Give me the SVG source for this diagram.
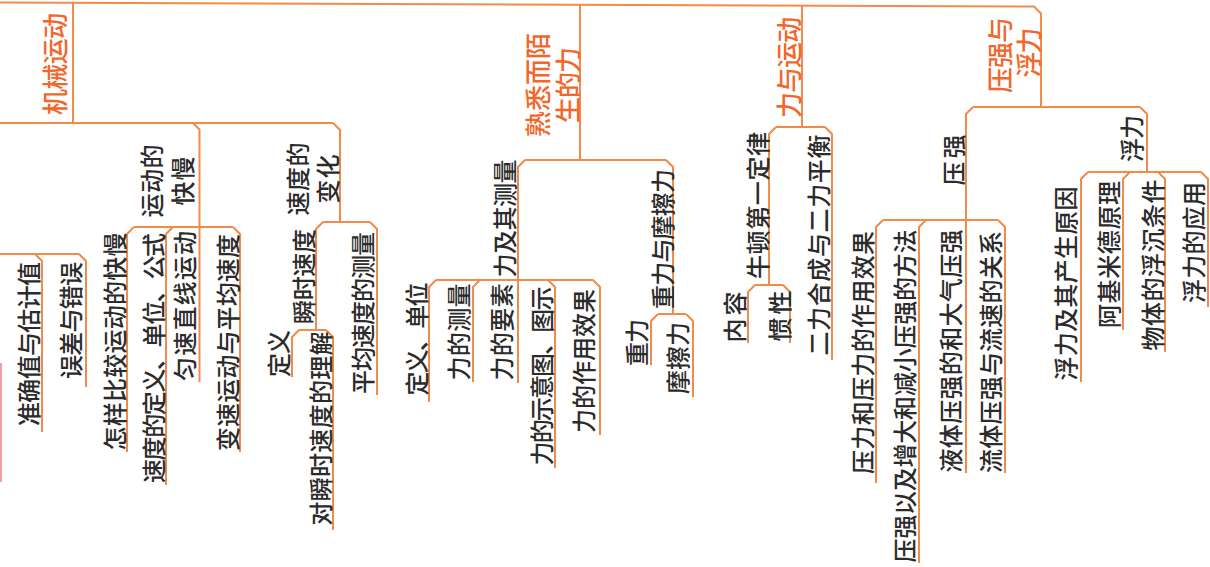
<svg xmlns="http://www.w3.org/2000/svg" width="1210" height="567" viewBox="0 0 1210 567">
<style>
.ln{fill:none;stroke:#f28a4a;stroke-width:2;stroke-linejoin:round;stroke-linecap:butt}
.t{font-family:"Noto Sans CJK SC","Noto Sans",sans-serif;font-size:24px;font-weight:500;fill:#2b2b2b;text-anchor:middle;dominant-baseline:central}
.o{font-size:26px;fill:#f2672b}
</style>
<rect width="1210" height="567" fill="#ffffff"/>
<g id="connectors">
<path class="ln" d="M0,2.5 L1034,6.5 L1041,13.5 V107"/>
<path class="ln" d="M0,123 H333"/>
<path class="ln" d="M0,254 H79"/>
<path class="ln" d="M134,227 H233"/>
<path class="ln" d="M323,222 H370"/>
<path class="ln" d="M299,330 H326"/>
<path class="ln" d="M525,160 H666"/>
<path class="ln" d="M436,280 H593"/>
<path class="ln" d="M658,314 H686"/>
<path class="ln" d="M776,127 H825"/>
<path class="ln" d="M755,285 H783"/>
<path class="ln" d="M973,107 H1140"/>
<path class="ln" d="M883,220 H998"/>
<path class="ln" d="M1088,172 H1201"/>
<path class="ln" d="M1,363 V482" style="stroke:#f4a0a0"/>
</g>
<g id="n-jixie">
<path class="ln" d="M73,3 V123"/>
<text class="t o" transform="translate(53,64) rotate(-90)" textLength="102" lengthAdjust="spacing">机械运动</text>
</g>
<g id="n-shuxi">
<path class="ln" d="M580,4.5 V160"/>
<text class="t o" transform="translate(536,85) rotate(-90)" textLength="104" lengthAdjust="spacing">熟悉而陌</text>
<text class="t o" transform="translate(566,85) rotate(-90)" textLength="76" lengthAdjust="spacing">生的力</text>
</g>
<g id="n-liyuyundong">
<path class="ln" d="M802,5.5 V127"/>
<text class="t o" transform="translate(787,67.5) rotate(-90)" textLength="101" lengthAdjust="spacing">力与运动</text>
</g>
<g id="n-yaqiang-fuli">
<text class="t o" transform="translate(998,55) rotate(-90)" textLength="76" lengthAdjust="spacing">压强与</text>
<text class="t o" transform="translate(1027,52.5) rotate(-90)" textLength="50" lengthAdjust="spacing">浮力</text>
</g>
<g id="n-yundongkuaiman">
<path class="ln" d="M193,123 L199.5,129.5 V227"/>
<text class="t" transform="translate(150,181) rotate(-90)" textLength="73" lengthAdjust="spacing">运动的</text>
<text class="t" transform="translate(181,181) rotate(-90)" textLength="49" lengthAdjust="spacing">快慢</text>
</g>
<g id="n-suduchange">
<path class="ln" d="M333,123 L340,130 V222"/>
<text class="t" transform="translate(296,179) rotate(-90)" textLength="73" lengthAdjust="spacing">速度的</text>
<text class="t" transform="translate(326,179) rotate(-90)" textLength="49" lengthAdjust="spacing">变化</text>
</g>
<g id="n-zhunque">
<path class="ln" d="M35,254 L42,261 V432"/>
<text class="t" transform="translate(27,344) rotate(-90)" textLength="164" lengthAdjust="spacing">准确值与估计值</text>
</g>
<g id="n-wucha">
<path class="ln" d="M79,254 L86,261 V387"/>
<text class="t" transform="translate(69,320.5) rotate(-90)" textLength="117" lengthAdjust="spacing">误差与错误</text>
</g>
<g id="n-zenyang">
<path class="ln" d="M134,227 L127,234 V452"/>
<text class="t" transform="translate(113,341.5) rotate(-90)" textLength="218" lengthAdjust="spacing">怎样比较运动的快慢</text>
</g>
<g id="n-sududing">
<path class="ln" d="M173,227 L166,234 V485"/>
<text class="t" transform="translate(152,358) rotate(-90)" textLength="250" lengthAdjust="spacing">速度的定义、单位、公式</text>
</g>
<g id="n-yunsu">
<path class="ln" d="M199.5,227 V382"/>
<text class="t" transform="translate(183,306) rotate(-90)" textLength="150" lengthAdjust="spacing">匀速直线运动</text>
</g>
<g id="n-biansu">
<path class="ln" d="M233,227 L240,234 V452"/>
<text class="t" transform="translate(226,342.5) rotate(-90)" textLength="217" lengthAdjust="spacing">变速运动与平均速度</text>
</g>
<g id="n-shunshi">
<path class="ln" d="M323,222 L316,229 V330"/>
<text class="t" transform="translate(302,276.5) rotate(-90)" textLength="95" lengthAdjust="spacing">瞬时速度</text>
</g>
<g id="n-pingjuncl">
<path class="ln" d="M370,222 L377,229 V395"/>
<text class="t" transform="translate(361,313) rotate(-90)" textLength="162" lengthAdjust="spacing">平均速度的测量</text>
</g>
<g id="n-dingyi1">
<path class="ln" d="M299,330 L292,337 V377"/>
<text class="t" transform="translate(277,353.5) rotate(-90)" textLength="47" lengthAdjust="spacing">定义</text>
</g>
<g id="n-lijie">
<path class="ln" d="M326,330 L333,337 V530"/>
<text class="t" transform="translate(319,428.5) rotate(-90)" textLength="194" lengthAdjust="spacing">对瞬时速度的理解</text>
</g>
<g id="n-lijiqicl">
<path class="ln" d="M525,160 L518,167 V383"/>
<text class="t" transform="translate(503,218.5) rotate(-90)" textLength="118" lengthAdjust="spacing">力及其测量</text>
</g>
<g id="n-zhongmoca">
<path class="ln" d="M666,160 L673,167 V314"/>
<text class="t" transform="translate(661,239) rotate(-90)" textLength="140" lengthAdjust="spacing">重力与摩擦力</text>
</g>
<g id="n-dingyidanwei">
<path class="ln" d="M436,280 L429,287 V402"/>
<text class="t" transform="translate(415,339) rotate(-90)" textLength="113" lengthAdjust="spacing">定义、单位</text>
</g>
<g id="n-lidecl">
<path class="ln" d="M480,280 L473,287 V382"/>
<text class="t" transform="translate(457,332) rotate(-90)" textLength="97" lengthAdjust="spacing">力的测量</text>
</g>
<g id="n-yaosu">
<text class="t" transform="translate(500,332) rotate(-90)" textLength="97" lengthAdjust="spacing">力的要素</text>
</g>
<g id="n-shiyitu">
<path class="ln" d="M548,280 L555,287 V468"/>
<text class="t" transform="translate(540,376) rotate(-90)" textLength="179" lengthAdjust="spacing">力的示意图、图示</text>
</g>
<g id="n-zuoyong">
<path class="ln" d="M593,280 L600,287 V435"/>
<text class="t" transform="translate(582,361) rotate(-90)" textLength="144" lengthAdjust="spacing">力的作用效果</text>
</g>
<g id="n-zhongli">
<path class="ln" d="M658,314 L651,321 V365"/>
<text class="t" transform="translate(635,342.5) rotate(-90)" textLength="47" lengthAdjust="spacing">重力</text>
</g>
<g id="n-mocali">
<path class="ln" d="M686,314 L693,321 V397"/>
<text class="t" transform="translate(676,358) rotate(-90)" textLength="72" lengthAdjust="spacing">摩擦力</text>
</g>
<g id="n-niudun">
<path class="ln" d="M776,127 L769,134 V285"/>
<text class="t" transform="translate(756,205.5) rotate(-90)" textLength="147" lengthAdjust="spacing">牛顿第一定律</text>
</g>
<g id="n-erli">
<path class="ln" d="M825,127 L832,134 V360"/>
<text class="t" transform="translate(817,245) rotate(-90)" textLength="221" lengthAdjust="spacing">二力合成与二力平衡</text>
</g>
<g id="n-neirong">
<path class="ln" d="M755,285 L748,292 V343"/>
<text class="t" transform="translate(733,317) rotate(-90)" textLength="51" lengthAdjust="spacing">内容</text>
</g>
<g id="n-guanxing">
<path class="ln" d="M783,285 L790,292 V343"/>
<text class="t" transform="translate(778,316) rotate(-90)" textLength="51" lengthAdjust="spacing">惯性</text>
</g>
<g id="n-yaqiang">
<path class="ln" d="M973,107 L966,114 V473"/>
<text class="t" transform="translate(952,160) rotate(-90)" textLength="51" lengthAdjust="spacing">压强</text>
</g>
<g id="n-fuli">
<path class="ln" d="M1140,107 L1147,114 V172"/>
<text class="t" transform="translate(1130,138.5) rotate(-90)" textLength="47" lengthAdjust="spacing">浮力</text>
</g>
<g id="n-yali">
<path class="ln" d="M883,220 L876,227 V483"/>
<text class="t" transform="translate(861,352.5) rotate(-90)" textLength="243" lengthAdjust="spacing">压力和压力的作用效果</text>
</g>
<g id="n-zengda">
<path class="ln" d="M926,220 L919,227 V563"/>
<text class="t" transform="translate(903,396) rotate(-90)" textLength="333" lengthAdjust="spacing">压强以及增大和减小压强的方法</text>
</g>
<g id="n-yeti">
<text class="t" transform="translate(949,351) rotate(-90)" textLength="243" lengthAdjust="spacing">液体压强的和大气压强</text>
</g>
<g id="n-liuti">
<path class="ln" d="M998,220 L1005,227 V473"/>
<text class="t" transform="translate(989,352) rotate(-90)" textLength="242" lengthAdjust="spacing">流体压强与流速的关系</text>
</g>
<g id="n-fulichansheng">
<path class="ln" d="M1088,172 L1081,179 V382"/>
<text class="t" transform="translate(1064,283.5) rotate(-90)" textLength="194" lengthAdjust="spacing">浮力及其产生原因</text>
</g>
<g id="n-ajimide">
<path class="ln" d="M1130,172 L1123,179 V330"/>
<text class="t" transform="translate(1107,254.5) rotate(-90)" textLength="147" lengthAdjust="spacing">阿基米德原理</text>
</g>
<g id="n-fuchen">
<path class="ln" d="M1158,172 L1165,179 V352"/>
<text class="t" transform="translate(1151,265) rotate(-90)" textLength="171" lengthAdjust="spacing">物体的浮沉条件</text>
</g>
<g id="n-yingyong">
<path class="ln" d="M1201,172 L1208,179 V307"/>
<text class="t" transform="translate(1192,242.5) rotate(-90)" textLength="121" lengthAdjust="spacing">浮力的应用</text>
</g>
</svg>
